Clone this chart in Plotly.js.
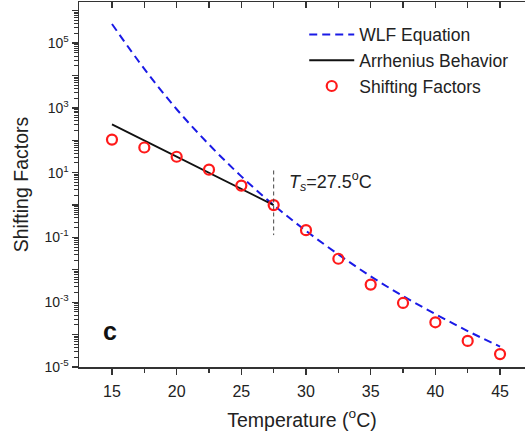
<!DOCTYPE html>
<html>
<head>
<meta charset="utf-8">
<script src="https://cdn.plot.ly/plotly-3.0.1.min.js"></script>
<style>html,body{margin:0;padding:0;background:#fff;}#chart{width:525px;height:436px;}</style>
</head>
<body>
<div id="chart"></div>
<script>
// Shifting factor data
var tempPoints = [15, 17.5, 20, 22.5, 25, 27.5, 30, 32.5, 35, 37.5, 40, 42.5, 45];
var shiftFactors = [105, 60, 31, 12.4, 4.0, 1.0, 0.168, 0.022, 0.0035, 0.00095, 0.00024, 0.000064, 0.000025];

// WLF equation curve
var wlfTemp = [15, 17.5, 20, 22.5, 25, 27.5, 30, 32.5, 35, 37.5, 40, 42.5, 45];
var wlfValues = [3.9e5, 1.6e4, 9.1e2, 74, 7.7, 1.0, 0.16, 0.030, 0.0063, 0.00155, 0.00043, 0.000129, 0.0000427];

// Arrhenius behaviour line
var arrTemp = [15, 27.5];
var arrValues = [310, 1.0];

// Reference temperature marker
var tsTemp = [27.5, 27.5];
var tsRange = [11.7, 0.118];

// Y tick labels
var yTickVals = [1e-5, 1e-4, 1e-3, 1e-2, 1e-1, 1, 10, 100, 1e3, 1e4, 1e5, 1e6];
var yTickText = ['10<sup>-5</sup>', '', '10<sup>-3</sup>', '', '10<sup>-1</sup>', '', '10<sup>1</sup>', '', '10<sup>3</sup>', '', '10<sup>5</sup>', ''];
var xTickVals = [15, 20, 25, 30, 35, 40, 45];

var minorVals = [];
for (var e = -5; e <= 6; e++) {
  for (var m = 2; m <= 9; m++) minorVals.push(m * Math.pow(10, e));
}

var font = 'Arial, "Liberation Sans", sans-serif';

var traces = [
  {
    x: wlfTemp, y: wlfValues, type: 'scatter', mode: 'lines', name: 'WLF Equation',
    line: {color: '#1a1ae6', width: 2, dash: '8px,5px', shape: 'spline'}
  },
  {
    x: arrTemp, y: arrValues, type: 'scatter', mode: 'lines', name: 'Arrhenius Behavior',
    line: {color: '#111111', width: 1.8}
  },
  {
    x: tempPoints, y: shiftFactors, type: 'scatter', mode: 'markers', name: 'Shifting Factors',
    marker: {symbol: 'circle-open', size: 10, color: '#ff1a1a', line: {width: 2.2, color: '#ff1a1a'}}
  },
  {
    x: tsTemp, y: tsRange, type: 'scatter', mode: 'lines', showlegend: false, hoverinfo: 'skip',
    line: {color: '#444444', width: 1, dash: '4px,3px'}
  },
  {
    x: [20], y: [1], xaxis: 'x2', type: 'scatter', mode: 'markers', showlegend: false,
    marker: {opacity: 0}, hoverinfo: 'skip'
  }
];

var layout = {
  width: 525, height: 436,
  margin: {l: 79, r: 0, t: 2, b: 69},
  paper_bgcolor: '#fff', plot_bgcolor: '#fff',
  font: {family: font, color: '#222'},
  showlegend: true,
  legend: {
    x: 0.505, y: 0.96, xanchor: 'left', yanchor: 'top',
    bgcolor: 'rgba(0,0,0,0)', font: {size: 17.5, family: font, color: '#222'},
    itemwidth: 45, tracegroupgap: 0
  },
  xaxis: {
    range: [12.45, 46.93], showgrid: false, zeroline: false,
    showline: true, linecolor: '#333', linewidth: 1.5,
    ticks: 'outside', ticklen: 6, tickwidth: 1.3, tickcolor: '#333',
    tickmode: 'array', tickvals: xTickVals, ticklabelstandoff: 3,
    minor: {tickmode: 'array', tickvals: [17.5, 22.5, 27.5, 32.5, 37.5, 42.5], ticks: 'outside', ticklen: 4, tickwidth: 1.2, tickcolor: '#333'},
    tickfont: {size: 16, family: font, color: '#222'},
    title: {text: 'Temperature (<sup>o</sup>C)', font: {size: 19.5, family: font, color: '#222'}, standoff: 14}
  },
  xaxis2: {
    overlaying: 'x', side: 'top', range: [12.45, 46.93], showgrid: false, zeroline: false,
    showline: true, linecolor: '#333', linewidth: 1.5,
    ticks: 'inside', ticklen: 6, tickwidth: 1.3, tickcolor: '#333',
    tickmode: 'linear', tick0: 15, dtick: 2.5, showticklabels: false
  },
  yaxis: {
    type: 'log', range: [-5, 6.27], showgrid: false, zeroline: false,
    showline: true, linecolor: '#333', linewidth: 1.5,
    ticks: 'outside', ticklen: 6, tickwidth: 1.3, tickcolor: '#333',
    tickmode: 'array', tickvals: yTickVals, ticktext: yTickText,
    minor: {tickmode: 'array', tickvals: minorVals, ticks: 'outside', ticklen: 3.5, tickwidth: 1, tickcolor: '#333'},
    tickfont: {size: 14, family: font, color: '#222'},
    title: {text: 'Shifting Factors', font: {size: 19.5, family: font, color: '#222'}, standoff: 10}
  },
  annotations: [
    {
      x: 27.5, y: 0.73, xref: 'x', yref: 'y', xanchor: 'left', yanchor: 'middle', xshift: 13,
      text: '<i>T<sub>s</sub></i>=27.5<sup>o</sup>C', showarrow: false,
      font: {size: 18, family: font, color: '#222'}
    },
    {
      x: 0.07, y: 0.1, xref: 'paper', yref: 'paper', xanchor: 'center', yanchor: 'middle',
      text: '<b>c</b>', showarrow: false,
      font: {size: 25, family: font, color: '#111'}
    }
  ]
};

Plotly.newPlot('chart', traces, layout, {displayModeBar: false, staticPlot: true});
</script>
</body>
</html>
